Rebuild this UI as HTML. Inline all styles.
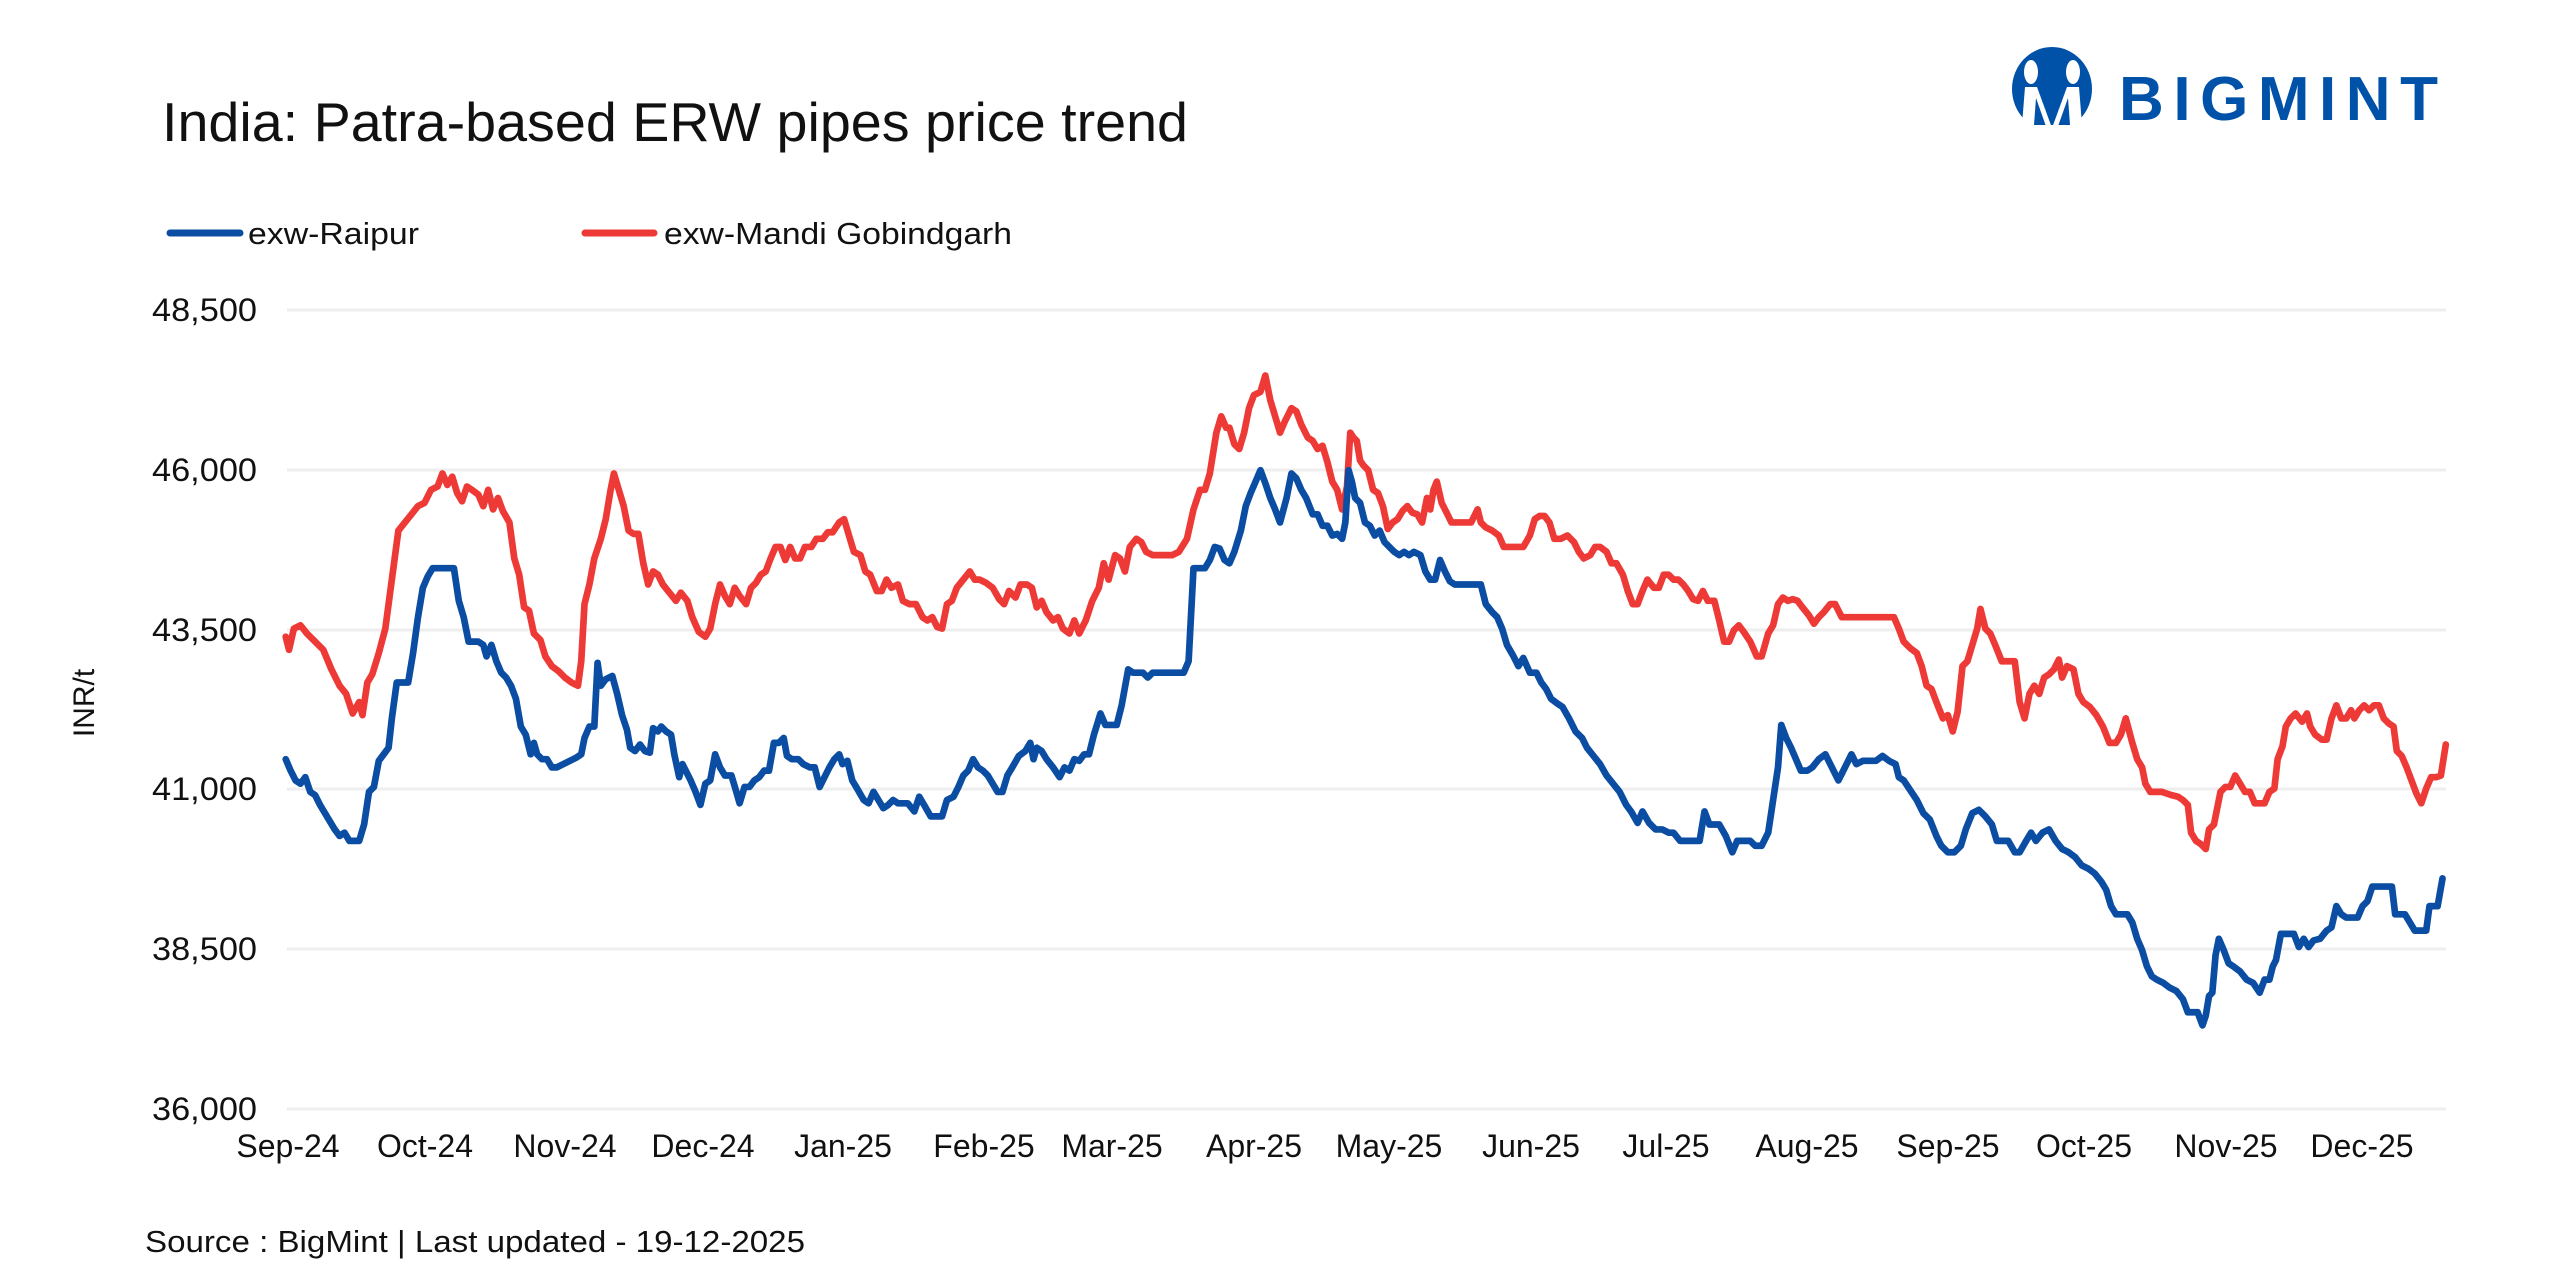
<!DOCTYPE html>
<html><head><meta charset="utf-8"><style>
html,body{margin:0;padding:0;background:#fff;}
svg{display:block;}
text{font-family:"Liberation Sans",sans-serif;fill:#111;}
</style></head><body>
<svg width="2560" height="1281" viewBox="0 0 2560 1281" xmlns="http://www.w3.org/2000/svg">
<rect width="2560" height="1281" fill="#fff"/>
<text x="162" y="141" font-size="55" textLength="1026" lengthAdjust="spacingAndGlyphs">India: Patra-based ERW pipes price trend</text>
<!-- logo -->
<g fill="#0051a8">
<ellipse cx="2052" cy="89" rx="40" ry="42"/>
<rect x="2035" y="120" width="10" height="14"/>
<rect x="2060" y="120" width="10" height="14"/>
</g>
<g fill="#fff">
<ellipse cx="2031" cy="72" rx="7" ry="12"/>
<ellipse cx="2073" cy="72" rx="7" ry="12"/>
<polygon points="2025,87 2037,87 2052,128 2067,87 2079,87 2082,125 2070,125 2068,98 2056,132 2048,132 2036,98 2034,125 2022,125"/>
<rect x="2005" y="125" width="95" height="15"/>
</g>
<text x="2119" y="120" font-size="62" font-weight="bold" style="fill:#0051a8" textLength="319" lengthAdjust="spacing">BIGMINT</text>
<!-- legend -->
<line x1="170" y1="233" x2="240" y2="233" stroke="#0a4da2" stroke-width="7" stroke-linecap="round"/>
<text x="248" y="244" font-size="31" textLength="171" lengthAdjust="spacingAndGlyphs">exw-Raipur</text>
<line x1="585" y1="233" x2="654" y2="233" stroke="#ee3a36" stroke-width="7" stroke-linecap="round"/>
<text x="664" y="244" font-size="31" textLength="348" lengthAdjust="spacingAndGlyphs">exw-Mandi Gobindgarh</text>
<!-- grid -->
<g stroke="#eeeeee" stroke-width="3">
<line x1="287" y1="310" x2="2446" y2="310"/>
<line x1="287" y1="470" x2="2446" y2="470"/>
<line x1="287" y1="630" x2="2446" y2="630"/>
<line x1="287" y1="789" x2="2446" y2="789"/>
<line x1="287" y1="949" x2="2446" y2="949"/>
<line x1="287" y1="1109" x2="2446" y2="1109"/>
</g>
<g font-size="32" text-anchor="end">
<text x="257" y="321" textLength="105" lengthAdjust="spacingAndGlyphs">48,500</text>
<text x="257" y="481" textLength="105" lengthAdjust="spacingAndGlyphs">46,000</text>
<text x="257" y="641" textLength="105" lengthAdjust="spacingAndGlyphs">43,500</text>
<text x="257" y="800" textLength="105" lengthAdjust="spacingAndGlyphs">41,000</text>
<text x="257" y="960" textLength="105" lengthAdjust="spacingAndGlyphs">38,500</text>
<text x="257" y="1120" textLength="105" lengthAdjust="spacingAndGlyphs">36,000</text>
</g>
<text transform="translate(94,703) rotate(-90)" font-size="30" text-anchor="middle">INR/t</text>
<g font-size="32" text-anchor="middle">
<text x="288" y="1157">Sep-24</text><text x="425" y="1157">Oct-24</text><text x="565" y="1157">Nov-24</text><text x="703" y="1157">Dec-24</text><text x="843" y="1157">Jan-25</text><text x="984" y="1157">Feb-25</text><text x="1112" y="1157">Mar-25</text><text x="1254" y="1157">Apr-25</text><text x="1389" y="1157">May-25</text><text x="1531" y="1157">Jun-25</text><text x="1666" y="1157">Jul-25</text><text x="1807" y="1157">Aug-25</text><text x="1948" y="1157">Sep-25</text><text x="2084" y="1157">Oct-25</text><text x="2226" y="1157">Nov-25</text><text x="2362" y="1157">Dec-25</text>
</g>
<text x="145" y="1252" font-size="31" textLength="660" lengthAdjust="spacingAndGlyphs">Source : BigMint | Last updated - 19-12-2025</text>
<g transform="scale(1.6327)" fill="none" stroke-linejoin="round" stroke-linecap="round">
<polyline stroke="#ee3a36" stroke-width="4.1" points="175,390 177,398 180,385 184,383 188,388 193,393 198,398 203,410 208,420 212,425 216,437 220,430 222,438 225,418 228,413 232,400 236,385 240,355 244,325 248,320 252,315 256,310 260,308 264,300 268,298 271,290 274,297 277,292 280,302 283,307 286,298 289,300 293,303 296,310 299,300 302,312 305,305 308,313 312,320 315,342 318,352 321,372 324,374 327,388 331,392 334,402 338,408 342,411 346,415 350,418 354,420 356,405 358,370 361,358 364,342 368,330 371,318 374,300 376,290 379,300 382,310 385,325 388,327 391,327 394,345 397,358 400,350 403,352 406,358 410,363 414,368 417,363 421,368 424,378 428,387 432,390 435,385 438,370 441,358 444,365 447,370 450,360 453,365 457,370 460,360 463,357 466,352 469,350 472,342 475,335 478,335 481,343 484,335 487,342 490,342 493,335 497,335 500,330 504,330 507,326 510,326 514,320 517,318 520,328 523,338 527,340 530,350 533,352 537,362 540,362 543,355 546,360 550,358 553,368 557,370 561,370 565,378 568,380 571,378 574,384 577,385 580,370 583,368 586,360 590,355 594,350 597,355 600,355 604,357 608,360 612,367 615,370 618,362 622,366 625,358 629,358 632,360 635,372 638,368 641,375 645,380 648,378 651,385 655,388 658,380 661,388 665,380 669,368 673,360 676,345 679,355 683,340 686,342 689,350 692,335 696,330 699,332 702,338 706,340 710,340 714,340 718,340 722,338 727,330 731,312 735,300 738,300 741,290 745,265 748,255 751,262 753,262 756,272 759,275 762,265 765,250 768,242 772,240 775,230 778,245 781,255 784,265 787,258 791,250 794,252 797,260 801,268 804,270 807,275 810,273 813,283 816,295 819,300 822,312 825,298 827,265 829,268 831,270 833,282 835,285 838,288 841,300 844,302 847,310 850,324 853,320 856,318 859,313 862,310 865,314 868,315 871,320 874,305 876,312 878,300 880,295 883,308 886,314 889,320 893,320 897,320 901,320 905,312 907,320 910,323 914,325 918,328 921,335 925,335 929,335 933,335 937,328 940,318 943,316 946,316 949,320 952,330 956,330 960,328 964,332 967,338 970,342 974,340 977,335 980,335 984,338 987,345 990,345 994,352 997,362 1000,370 1003,370 1006,362 1009,355 1013,360 1016,360 1019,352 1022,352 1025,355 1028,355 1031,358 1034,362 1037,367 1040,368 1043,362 1046,368 1050,368 1053,380 1056,393 1059,393 1062,386 1065,383 1068,387 1072,393 1076,402 1079,402 1083,388 1086,383 1089,370 1092,366 1095,368 1098,367 1101,368 1104,372 1108,377 1111,382 1114,378 1117,375 1121,370 1124,370 1128,378 1132,378 1136,378 1140,378 1144,378 1148,378 1152,378 1156,378 1160,378 1163,385 1166,393 1170,397 1174,400 1177,408 1180,420 1183,422 1186,430 1190,440 1193,438 1196,448 1199,436 1202,408 1205,405 1208,395 1211,385 1213,373 1216,385 1219,388 1222,395 1226,405 1230,405 1234,405 1237,430 1240,440 1243,425 1246,420 1249,425 1252,415 1255,413 1258,410 1261,404 1263,415 1266,408 1270,410 1273,425 1276,430 1280,433 1284,438 1288,445 1292,455 1296,455 1299,450 1302,440 1306,455 1309,465 1312,470 1314,480 1317,485 1320,485 1324,485 1327,486 1330,487 1334,488 1337,490 1340,493 1342,510 1345,515 1348,517 1351,520 1353,508 1356,505 1358,495 1360,485 1363,482 1366,482 1369,475 1372,480 1375,485 1378,485 1381,492 1384,492 1387,492 1390,485 1393,483 1395,465 1398,457 1400,445 1403,440 1406,437 1410,442 1413,437 1415,445 1418,450 1422,453 1425,453 1428,440 1431,432 1434,440 1437,440 1440,435 1442,440 1445,435 1448,432 1451,435 1454,432 1457,432 1460,440 1463,443 1466,445 1468,460 1471,463 1474,470 1477,478 1480,486 1483,492 1486,483 1489,476 1492,476 1495,475 1498,456"/>
<polyline stroke="#0a4da2" stroke-width="4.1" points="175,465 178,472 181,478 184,480 187,476 190,485 193,487 196,493 199,498 202,503 205,508 208,512 211,510 214,515 217,515 220,515 223,505 226,485 229,482 232,466 235,462 238,458 240,440 243,418 246,418 250,418 253,400 256,378 259,360 262,353 265,348 268,348 271,348 274,348 278,348 281,368 284,378 287,393 290,393 293,393 296,395 298,402 301,395 304,405 307,412 310,415 313,420 316,428 319,445 322,450 325,462 327,455 329,462 332,465 335,465 338,470 341,470 345,468 349,466 353,464 356,462 358,452 361,445 364,445 366,406 368,420 371,416 375,414 378,425 381,438 384,447 386,458 389,460 392,456 395,460 398,461 400,446 403,448 405,445 408,448 411,450 413,462 416,476 418,468 420,472 423,478 426,485 429,493 432,480 435,478 438,462 441,470 444,475 448,475 451,485 453,492 456,482 459,482 462,478 465,476 468,472 471,472 474,455 477,455 480,452 482,463 485,465 489,465 492,468 496,470 499,470 502,482 505,476 508,470 511,465 514,462 516,468 519,466 522,478 525,483 529,490 532,492 535,485 538,490 541,495 544,493 547,490 550,492 552,492 556,492 560,497 563,488 566,493 570,500 574,500 577,500 580,490 584,488 587,482 590,475 593,472 596,465 599,470 602,472 605,475 608,480 611,485 614,485 617,475 620,470 624,463 628,460 631,455 633,465 635,458 638,460 641,465 645,470 649,476 652,470 655,472 658,465 661,466 664,462 667,462 670,450 674,437 677,444 680,444 684,444 687,432 691,410 694,412 697,412 700,412 703,415 706,412 710,412 714,412 718,412 722,412 725,412 728,405 731,348 734,348 738,348 741,343 744,335 747,336 750,343 753,345 756,338 760,325 763,310 766,302 769,295 772,288 775,296 778,305 781,312 784,320 788,305 791,290 794,293 797,300 800,305 804,315 807,315 810,322 813,322 816,328 819,327 822,330 824,320 826,288 828,295 830,305 833,308 836,320 839,322 842,328 845,325 848,332 851,335 854,338 857,340 860,338 863,340 866,338 870,340 873,350 876,355 879,355 882,343 885,350 888,356 891,358 895,358 899,358 903,358 907,358 910,370 914,375 917,378 920,385 923,395 927,402 930,408 933,403 937,412 941,412 944,418 947,422 950,428 954,431 957,433 961,440 965,448 969,452 972,458 976,463 980,468 984,475 988,480 992,485 996,493 999,497 1003,504 1006,497 1010,504 1014,508 1018,508 1022,510 1025,510 1029,515 1033,515 1037,515 1041,515 1044,497 1047,505 1050,505 1053,505 1057,512 1061,522 1064,515 1068,515 1072,515 1075,518 1079,518 1083,510 1086,490 1089,470 1091,444 1094,452 1097,458 1100,465 1103,472 1107,472 1110,470 1114,465 1118,462 1122,470 1126,478 1130,470 1134,462 1137,468 1141,466 1145,466 1149,466 1153,463 1157,466 1161,468 1163,476 1166,478 1170,484 1174,490 1178,498 1182,502 1186,512 1189,518 1193,522 1197,522 1201,518 1204,508 1208,498 1212,496 1216,500 1220,505 1223,515 1226,515 1230,515 1234,522 1237,522 1241,515 1244,510 1247,515 1251,510 1255,508 1259,515 1263,520 1267,522 1271,525 1275,530 1279,532 1283,535 1287,540 1290,545 1293,555 1296,560 1300,560 1303,560 1306,565 1309,575 1312,582 1315,592 1318,598 1321,600 1325,602 1329,605 1333,607 1337,612 1340,620 1343,620 1346,620 1349,628 1351,622 1353,610 1355,608 1357,585 1359,575 1362,582 1365,590 1368,592 1372,595 1376,600 1380,602 1384,608 1387,600 1390,600 1392,592 1394,588 1397,572 1401,572 1405,572 1408,580 1411,575 1414,580 1417,576 1421,575 1425,570 1428,568 1431,555 1434,560 1437,562 1440,562 1444,562 1447,555 1450,552 1453,543 1457,543 1461,543 1465,543 1467,560 1470,560 1473,560 1476,565 1479,570 1483,570 1486,570 1488,555 1491,555 1493,555 1496,538"/>
</g>
</svg>
</body></html>
